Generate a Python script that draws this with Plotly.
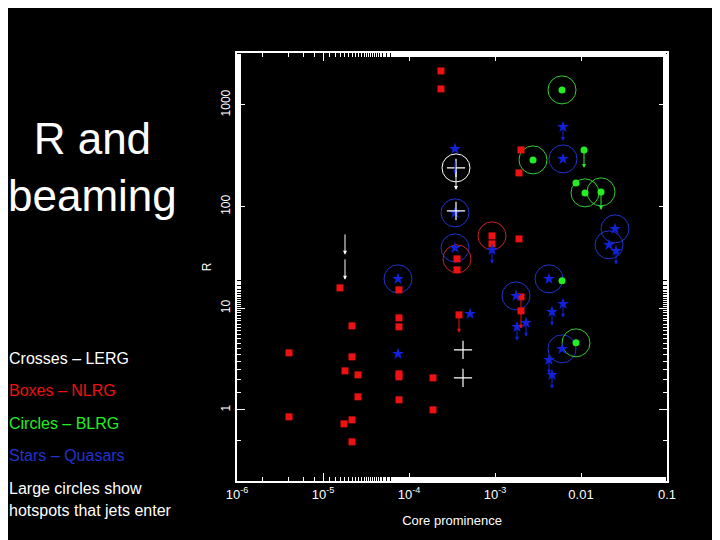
import numpy as np
import plotly.graph_objects as go

def cx(px): return 10**(-6 + (px-237)/86)
def cy(py): return 10**(3 - (py-105)/101.7)

# values (pixel estimates converted via axis calibration)
box_px = [(441,71),(441,89),(340,288),(352,326),(352,357),(345,371),(358,375),(358,397),(352,420),(344,424),
          (352,442),(289,353),(289,417),(399,290),(399,318),(399,327),(399,374),(399,377),(399,400),(433,378),(433,410),
          (457,259),(457,270),(492,236),(492,244),(519,239),(521,150),(519,173),(459,315),(521,297),(521,311)]
box_lim = [(459,315),(521,297),(521,311)]
green_px = [(562,90),(533,160),(584,150),(576,183),(585,193),(601,192),(562,281),(576,343)]
green_lim = [(584,150),(601,192)]
green_ring = [(562,90),(533,160),(585,193),(601,192),(576,343)]
star_px = [(563,127),(455,149),(563,159),(455,213),(455,248),(615,229),(609,245),(616,251),(398,279),(549,279),
           (516,296),(398,354),(470,314),(526,323),(517,327),(552,312),(563,304),(562,349),(549,360),(552,375),(492,250)]
star_lim = [(563,127),(526,323),(517,327),(552,312),(563,304),(549,360),(552,375),(492,250),(616,251),(455,160)]
blue_ring = [(563,159),(455,213),(455,248),(615,229),(609,245),(398,279),(549,279),(516,296),(562,349)]
red_ring = [(492,236),(457,259)]
cross_px = [(456,168),(456,211),(463,350),(463,378)]
white_ring = [(456,168)]
white_lim = [(345,233),(345,258),(456,168)]

fig = go.Figure()
def sc(pts, **kw):
    fig.add_trace(go.Scatter(x=[cx(p[0]) for p in pts], y=[cy(p[1]) for p in pts], mode="markers",
                             showlegend=False, hoverinfo="skip", **kw))

sc(blue_ring, marker=dict(symbol="circle-open", size=28, color="#2233cc", line=dict(width=1)))
sc(green_ring, marker=dict(symbol="circle-open", size=28, color="#33cc33", line=dict(width=1)))
sc(red_ring, marker=dict(symbol="circle-open", size=28, color="#cc2222", line=dict(width=1)))
sc(white_ring, marker=dict(symbol="circle-open", size=28, color="white", line=dict(width=1)))
sc(box_px, marker=dict(symbol="square", size=7, color="#ee1111"))
sc(green_px, marker=dict(symbol="circle", size=7, color="#22ee22"))
sc(star_px, marker=dict(symbol="star", size=9, color="#1122dd"))
sc(cross_px, marker=dict(symbol="cross-thin-open", size=13, color="white", line=dict(width=1.2, color="white")))

def arrows(pts, col, L=18):
    for p in pts:
        fig.add_annotation(x=np.log10(cx(p[0])), y=np.log10(cy(p[1]+L)), ax=0, ay=-L, axref="pixel", ayref="pixel",
                           showarrow=True, arrowhead=2, arrowsize=0.8, arrowwidth=1, arrowcolor=col, text="")
arrows(box_lim, "#ee1111"); arrows(green_lim, "#22ee22"); arrows(star_lim, "#1122dd", 14)
arrows(white_lim, "white", 22)

xt = [1e-6,1e-5,1e-4,1e-3,1e-2,1e-1]
xl = ["10<sup>-6</sup>","10<sup>-5</sup>","10<sup>-4</sup>","10<sup>-3</sup>","0.01","0.1"]
fig.update_xaxes(type="log", range=[-6,-1], tickvals=xt, ticktext=xl, showgrid=False, zeroline=False,
                 showline=True, linecolor="white", linewidth=2, mirror="ticks", ticks="inside", ticklen=8,
                 minor=dict(ticks="inside", ticklen=4, tickcolor="white"), tickcolor="white",
                 tickfont=dict(color="white", size=13), title=dict(text="Core prominence", font=dict(color="white", size=13)))
fig.update_yaxes(type="log", range=[np.log10(0.2), np.log10(3240)], tickvals=[1,10,100,1000],
                 ticktext=["1","10","100","1000"], tickangle=-90, showgrid=False, zeroline=False,
                 showline=True, linecolor="white", linewidth=2, mirror="ticks", ticks="inside", ticklen=8,
                 minor=dict(ticks="inside", ticklen=4, tickcolor="white"), tickcolor="white",
                 tickfont=dict(color="white", size=12), title=dict(text="R", font=dict(color="white", size=12), standoff=5))

fig.add_annotation(xref="paper", yref="paper", x=(92-237)/430, y=(481-167)/428, text="R and<br>beaming", showarrow=False,
                   xanchor="center", yanchor="middle", font=dict(family="Liberation Sans", size=44, color="white"), align="center")
legend = [("Crosses – LERG","white",358),("Boxes – NLRG","#ee1111",390),("Circles – BLRG","#22ee22",423),
          ("Stars – Quasars","#2233cc",455),("Large circles show","white",488),("hotspots that jets enter","white",510)]
for t,c,py in legend:
    fig.add_annotation(xref="paper", yref="paper", x=(7-237)/430, y=(481-py)/428, text=t, showarrow=False,
                       xanchor="left", yanchor="middle", font=dict(family="Liberation Sans", size=16, color=c))

# page body has an 8px margin; shrink figure and shift so plot frame lands where the reference has it
fig.update_layout(width=712, height=532, paper_bgcolor="black", plot_bgcolor="black",
                  margin=dict(l=229, r=53, t=45, b=59), font=dict(family="Liberation Sans"))
fig.write_html("out.html")
